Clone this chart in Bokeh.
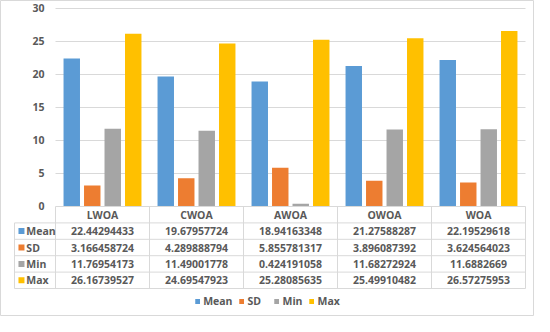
from bokeh.plotting import figure
from bokeh.models import Range1d, ColumnDataSource, Legend, LegendItem
from bokeh.core.properties import value
from bokeh.embed import file_html
from bokeh.resources import INLINE

categories = ["LWOA", "CWOA", "AWOA", "OWOA", "WOA"]
series_names = ["Mean", "SD", "Min", "Max"]
mean_vals = [22.44294433, 19.67957724, 18.94163348, 21.27588287, 22.19529618]
sd_vals = [3.166458724, 4.289888794, 5.855781317, 3.896087392, 3.624564023]
min_vals = [11.76954173, 11.49001778, 0.424191058, 11.68272924, 11.6882669]
max_vals = [26.16739527, 24.69547923, 25.28085635, 25.49910482, 26.57275953]
y_ticks = [0, 5, 10, 15, 20, 25, 30]

colors = ["#5b9bd5", "#ed7d31", "#a5a5a5", "#ffc000"]
all_vals = [mean_vals, sd_vals, min_vals, max_vals]
offsets = [-0.327, -0.109, 0.109, 0.327]
bar_w = 0.175
grey = "#d9d9d9"
txt = "#595959"
FONT = "Open Sans"
FS = "10.5px"

p = figure(width=534, height=316, output_backend="svg", toolbar_location=None,
           x_axis_location=None, y_axis_location=None, min_border=0,
           x_range=Range1d(-0.5851, 5.0957), y_range=Range1d(-16.667, 31.212))
p.grid.visible = False
p.outline_line_color = grey
p.background_fill_color = "white"
p.border_fill_color = "white"

# gridlines
gt = [t for t in y_ticks if t > 0]
p.segment(x0=[0] * len(gt), x1=[5] * len(gt), y0=gt, y1=gt, line_color=grey, line_width=1)

# y tick labels
p.text(x=[-0.117] * len(y_ticks), y=y_ticks, text=[str(t) for t in y_ticks],
       text_align="right", text_baseline="middle", text_font=value(FONT),
       text_font_size=value(FS), text_font_style="bold", text_color=txt)

# bars
items = []
for name, vals, col, off in zip(series_names, all_vals, colors, offsets):
    src = ColumnDataSource(dict(x=[i + 0.5 + off for i in range(len(categories))], top=vals))
    r = p.vbar(x="x", top="top", bottom=0, width=bar_w, source=src, fill_color=col, line_color=None)
    items.append(LegendItem(label=name, renderers=[r]))

# data table
h = 2.485
left = -0.436
ncat = len(categories)
hx0 = [0]; hx1 = [ncat]; hy = [0]
for k in range(1, 6):
    hx0.append(left); hx1.append(ncat); hy.append(-k * h)
p.segment(x0=hx0, x1=hx1, y0=hy, y1=hy, line_color=grey, line_width=1)
vx = list(range(ncat + 1)) + [left]
vy0 = [0] * (ncat + 1) + [-h]
vy1 = [-5 * h] * (ncat + 2)
p.segment(x0=vx, x1=vx, y0=vy0, y1=vy1, line_color=grey, line_width=1)

# header row
p.text(x=[i + 0.5 for i in range(ncat)], y=[-0.5 * h] * ncat, text=categories,
       text_align="center", text_baseline="middle", text_font=value(FONT),
       text_font_size=value(FS), text_font_style="bold", text_color=txt)

# label column
row_y = [-(k + 1.5) * h for k in range(4)]
p.scatter(x=[-0.362] * 4, y=row_y, marker="square", size=6, fill_color=colors, line_color=None)
p.text(x=[-0.31] * 4, y=row_y, text=series_names, text_align="left", text_baseline="middle",
       text_font=value(FONT), text_font_size=value(FS), text_font_style="bold", text_color=txt)

# values
for k, vals in enumerate(all_vals):
    p.text(x=[i + 0.5 for i in range(ncat)], y=[row_y[k]] * ncat, text=[repr(v) for v in vals],
           text_align="center", text_baseline="middle", text_font=value(FONT),
           text_font_size=value(FS), text_font_style="bold", text_color=txt)

legend = Legend(items=items, orientation="horizontal", location="bottom_center",
                glyph_width=6, glyph_height=6, label_standoff=3, spacing=6, padding=0,
                margin=8, label_height=10, border_line_alpha=0, background_fill_alpha=0,
                label_text_font=FONT, label_text_font_size=FS, label_text_font_style="bold",
                label_text_color=txt)
p.add_layout(legend)

open("out.html", "w").write(file_html(p, INLINE))
